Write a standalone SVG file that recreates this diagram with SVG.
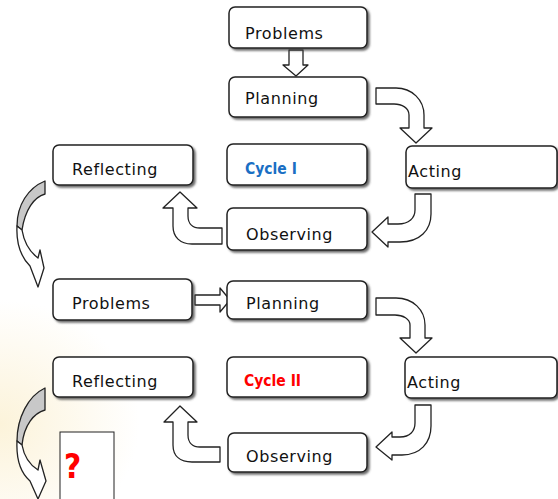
<svg xmlns="http://www.w3.org/2000/svg" width="558" height="499" viewBox="0 0 558 499">
<defs>
<filter id="sh" x="-10%" y="-10%" width="130%" height="140%">
<feDropShadow dx="2" dy="2" stdDeviation="1" flood-color="#444" flood-opacity="0.8"/>
</filter>
<radialGradient id="bg" cx="0" cy="0.85" r="0.25">
<stop offset="0" stop-color="#fcf3da"/>
<stop offset="1" stop-color="#ffffff"/>
</radialGradient>
</defs>
<style>
.box{fill:#fff;stroke:#222;stroke-width:1.5;filter:url(#sh)}
.t{font-family:"DejaVu Sans",sans-serif;font-size:16px;letter-spacing:0.6px;fill:#111}
.cy{font-family:"DejaVu Sans Condensed","DejaVu Sans",sans-serif;font-stretch:condensed;font-weight:bold;font-size:15.5px}
.ar{fill:#fff;stroke:#222;stroke-width:1.3;stroke-linejoin:round}
.gr{fill:#c8c8c8;stroke:#222;stroke-width:1.3;stroke-linejoin:round}
</style>
<rect width="558" height="499" fill="url(#bg)"/>

<g id="connectors">
<path class="ar" d="M289,50 L303,50 L303,65 L308,65 L296,76 L283,65 L289,65 Z"/>
<path class="ar" d="M376,88 L396,88 C412,88 424,100 424,115 L424,128 L432,128 L416,143 L400,128 L409,128 L409,115 C409,108 402,104 394,104 L376,104 Z"/>
<path class="ar" d="M415,194 L431,194 L431,214 C431,230 420,242 400,242 L388,242 L388,247 L372,232 L388,217 L388,224 L398,224 C409,224 415,218 415,210 Z"/>
<path class="ar" d="M222,228 L200,228 C193,228 188,224 188,216 L188,208 L197,208 L180,192 L163,208 L173,208 L173,226 C173,237 180,244 192,244 L222,244 Z"/>
<path class="gr" d="M45,181 L45,194 C34,197 25,210 22,230 L17,226 C17,205 28,188 45,181 Z"/>
<path class="ar" d="M17,226 C16,245 22,258 30,266 L38,287 L44,268 L40,250 L38,258 C30,252 24,242 22,230 Z"/>
<path class="ar" d="M195,295 L220,295 L220,288 L230,300 L220,312 L220,305 L195,305 Z"/>
<path class="ar" d="M376,298 L396,298 C413,298 425,310 425,325 L425,338 L432,338 L416,353 L400,338 L410,338 L410,325 C410,319 403,315 395,315 L376,315 Z"/>
<path class="ar" d="M415,405 L431,405 L431,426 C431,443 420,455 402,455 L392,455 L392,460 L376,447 L392,432 L392,437 L400,437 C410,437 415,431 415,423 Z"/>
<path class="ar" d="M220,447 L200,447 C193,447 188,443 188,435 L188,422 L197,422 L180,406 L164,422 L173,422 L173,445 C173,456 180,462 192,462 L220,462 Z"/>
<path class="gr" d="M45,388 L45,410 C34,413 24,425 22,445 L17,441 C17,418 28,396 45,388 Z"/>
<path class="ar" d="M17,441 C16,462 22,474 30,481 L38,499 L46,481 L40,460 L38,470 C30,465 24,456 22,445 Z"/>
</g>

<g id="problems1"><rect class="box" x="229" y="7" width="138" height="41" rx="6"/><text class="t" x="245" y="39">Problems</text></g>
<g id="planning1"><rect class="box" x="229" y="77" width="138" height="40" rx="6"/><text class="t" x="245" y="104">Planning</text></g>
<g id="acting1"><rect class="box" x="406" y="146" width="151" height="42" rx="6"/><text class="t" x="408" y="177">Acting</text></g>
<g id="reflecting1"><rect class="box" x="53" y="145" width="140" height="40" rx="6"/><text class="t" x="72" y="175">Reflecting</text></g>
<g id="cycle1"><rect class="box" x="227" y="144" width="140" height="41" rx="6"/><text class="cy" x="245" y="174" fill="#1a6fc4">Cycle I</text></g>
<g id="observing1"><rect class="box" x="227" y="208" width="140" height="42" rx="6"/><text class="t" x="246" y="240">Observing</text></g>
<g id="problems2"><rect class="box" x="53" y="279" width="139" height="41" rx="6"/><text class="t" x="72" y="309">Problems</text></g>
<g id="planning2"><rect class="box" x="227" y="281" width="140" height="38" rx="6"/><text class="t" x="246" y="309">Planning</text></g>
<g id="reflecting2"><rect class="box" x="53" y="357" width="140" height="40" rx="6"/><text class="t" x="72" y="387">Reflecting</text></g>
<g id="cycle2"><rect class="box" x="227" y="357" width="140" height="40" rx="6"/><text class="cy" x="244" y="386" fill="#ff0000">Cycle II</text></g>
<g id="acting2"><rect class="box" x="405" y="357" width="152" height="41" rx="6"/><text class="t" x="407" y="388">Acting</text></g>
<g id="observing2"><rect class="box" x="228" y="433" width="139" height="39" rx="6"/><text class="t" x="246" y="462">Observing</text></g>
<g id="question"><rect x="60" y="432" width="54" height="72" fill="#fff" stroke="#222" stroke-width="1"/><text x="64" y="478" font-family="DejaVu Sans Condensed,DejaVu Sans,sans-serif" font-weight="bold" font-size="33" fill="#ff0000">?</text></g>
</svg>
